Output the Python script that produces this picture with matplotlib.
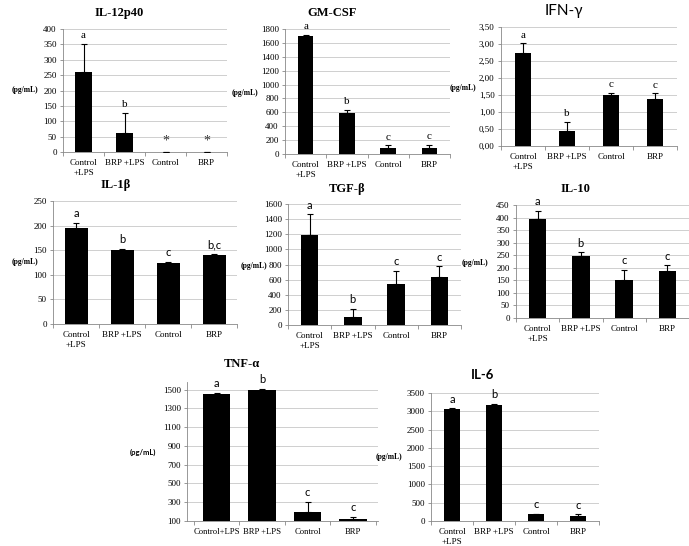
import matplotlib
matplotlib.use("Agg")
import matplotlib.pyplot as plt
from matplotlib.ticker import FuncFormatter, FixedLocator

W, H = 689, 546
SERIF = "Liberation Serif"
SANS = "Lato"

groups = ["Control\n+LPS", "BRP +LPS", "Control", "BRP"]
groups_tnf = ["Control+LPS", "BRP +LPS", "Control", "BRP"]

il12_mean = [260, 62, 0, 0]
il12_err = [92, 65, 0, 0]
il12_sig = ["a", "b", "*", "*"]

gmcsf_mean = [1700, 590, 90, 85]
gmcsf_err = [20, 40, 35, 50]
gmcsf_sig = ["a", "b", "c", "c"]

ifng_mean = [2.75, 0.45, 1.50, 1.37]
ifng_err = [0.27, 0.27, 0.07, 0.18]
ifng_sig = ["a", "b", "c", "c"]

il1b_mean = [195, 151, 124, 140]
il1b_err = [10, 2, 3, 3]
il1b_sig = ["a", "b", "c", "b,c"]

tgfb_mean = [1195, 105, 545, 630]
tgfb_err = [270, 105, 170, 145]
tgfb_sig = ["a", "b", "c", "c"]

il10_mean = [393, 247, 152, 188]
il10_err = [35, 15, 41, 22]
il10_sig = ["a", "b", "c", "c"]

tnfa_mean = [1455, 1495, 200, 120]
tnfa_err = [10, 10, 100, 25]
tnfa_sig = ["a", "b", "c", "c"]

il6_mean = [3050, 3165, 180, 150]
il6_err = [30, 45, 20, 30]
il6_sig = ["a", "b", "c", "c"]


def px_axes(fig, left, top, right, bottom):
    return fig.add_axes([left / W, 1 - bottom / H, (right - left) / W, (bottom - top) / H])


def panel(fig, box, title, title_xy, mean, err, sig, labels, ylim, step, bw,
          title_font=SERIF, title_size=9, title_weight="bold", sig_font=SERIF,
          xlim=(-0.5, 3.5), comma=False, yticks=None, xlab_size=6.5):
    ax = px_axes(fig, *box)
    x = list(range(len(mean)))
    lower = [0] * len(err)
    ax.bar(x, mean, width=bw, color="black", zorder=3)
    ax.errorbar(x, mean, yerr=[lower, err], fmt="none", ecolor="black",
                elinewidth=0.8, capsize=2, capthick=0.8, zorder=4)
    ax.set_ylim(*ylim)
    ax.set_xlim(*xlim)
    if yticks is None:
        yticks = [ylim[0] + i * step for i in range(int(round((ylim[1] - ylim[0]) / step)) + 1)]
    ax.yaxis.set_major_locator(FixedLocator(yticks))
    if comma:
        ax.yaxis.set_major_formatter(FuncFormatter(lambda v, p: f"{v:.2f}".replace(".", ",")))
    else:
        ax.yaxis.set_major_formatter(FuncFormatter(lambda v, p: f"{v:.0f}"))
    ax.set_xticks(x)
    ax.set_xticklabels(labels, fontfamily=SERIF, fontsize=xlab_size, linespacing=1.35)
    ax.set_xticks([i - 0.5 for i in range(len(mean) + 1)], minor=True)
    ax.tick_params(axis="x", which="major", length=0, pad=5)
    ax.tick_params(axis="x", which="minor", length=3, width=0.6, color="#888888")
    ax.tick_params(axis="y", length=2.5, width=0.6, color="#888888", pad=2, labelsize=6.5)
    for t in ax.get_yticklabels():
        t.set_fontfamily(SERIF)
    ax.grid(axis="y", color="#c8c8c8", linewidth=0.6, zorder=0)
    for s in ("top", "right"):
        ax.spines[s].set_visible(False)
    for s in ("left", "bottom"):
        ax.spines[s].set_color("#888888")
        ax.spines[s].set_linewidth(0.6)
    span = ylim[1] - ylim[0]
    for xi, m, e, s in zip(x, mean, err, sig):
        if s == "*":
            # no detectable level: star sits just above the baseline
            ax.text(xi, ylim[0] + span * 0.085, s, ha="center", va="center",
                    fontfamily=sig_font, fontsize=10, color="#333333")
        else:
            ax.text(xi, max(m, ylim[0]) + e + span * 0.03, s, ha="center", va="bottom",
                    fontfamily=sig_font, fontsize=8)
    fig.text(title_xy[0] / W, 1 - title_xy[1] / H, title, ha="center", va="center",
             fontfamily=title_font, fontweight=title_weight, fontsize=title_size)
    return ax


fig = plt.figure(figsize=(W / 100, H / 100), dpi=100)

panel(fig, (63, 29, 227, 152), "IL-12p40", (119, 13), il12_mean, il12_err, il12_sig,
      groups, (0, 400), 50, 0.42)
panel(fig, (285, 29, 450, 154), "GM-CSF", (332, 13), gmcsf_mean, gmcsf_err, gmcsf_sig,
      groups, (0, 1800), 200, 0.38)
panel(fig, (501, 27, 677, 146), "IFN-\u03b3", (564, 11), ifng_mean, ifng_err, ifng_sig,
      groups, (0, 3.5), 0.5, 0.38, title_font=SANS, title_size=11,
      title_weight="normal", comma=True)
panel(fig, (53, 201, 237, 324), "IL-1\u03b2", (116, 185), il1b_mean, il1b_err, il1b_sig,
      groups, (0, 250), 50, 0.5, sig_font=SANS)
panel(fig, (288, 204, 461, 325), "TGF-\u03b2", (347, 189), tgfb_mean, tgfb_err, tgfb_sig,
      groups, (0, 1600), 200, 0.41, sig_font=SANS)
panel(fig, (516, 205, 689, 318), "IL-10", (575, 189), il10_mean, il10_err, il10_sig,
      groups, (0, 450), 50, 0.41, sig_font=SANS)
panel(fig, (187, 382, 378, 521), "TNF-\u03b1", (242, 364), tnfa_mean, tnfa_err, tnfa_sig,
      groups_tnf, (100, 1580), 200, 0.6, sig_font=SANS, xlim=(-0.65, 3.55),
      yticks=[100, 300, 500, 700, 900, 1100, 1300, 1500], xlab_size=6.2)
panel(fig, (431, 393, 599, 521), "IL-6", (483, 375), il6_mean, il6_err, il6_sig,
      groups, (0, 3500), 500, 0.4, title_font=SANS, title_size=9.5, sig_font=SANS)

# y-axis unit labels, placed like the original figure
unit_pos = [(25, 90, SERIF), (245, 93, SERIF), (463, 88, SERIF), (25, 262, SERIF),
            (254, 266, SERIF), (475, 263, SERIF), (143, 452, SANS), (389, 457, SERIF)]
for ux, uy, uf in unit_pos:
    fig.text(ux / W, 1 - uy / H, "(pg/mL)", ha="center", va="center",
             fontfamily=uf, fontweight="bold", fontsize=5.5)

fig.savefig("out.png", dpi=100)
